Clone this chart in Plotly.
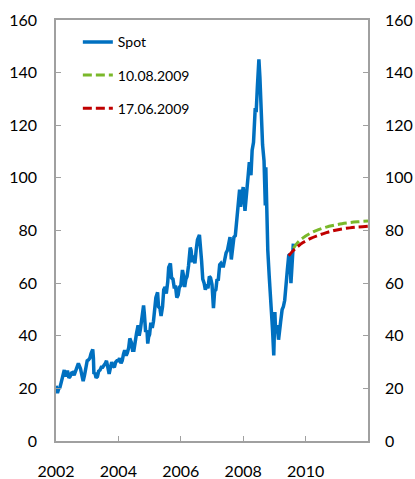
import plotly.graph_objects as go

# ---------------- data ----------------
spot_dates = [
    "2002-01-02", "2002-01-18", "2002-02-01", "2002-02-15", "2002-03-01", "2002-03-15", "2002-04-01", "2002-04-08",
    "2002-04-22", "2002-05-01", "2002-05-15", "2002-06-01", "2002-06-15", "2002-07-01", "2002-07-15", "2002-08-01",
    "2002-08-15", "2002-09-01", "2002-09-20", "2002-10-01", "2002-10-15", "2002-11-01", "2002-11-15", "2002-12-01",
    "2002-12-15",
    "2003-01-01", "2003-01-15", "2003-02-01", "2003-02-15", "2003-03-07", "2003-03-15", "2003-03-21", "2003-04-01",
    "2003-04-15", "2003-05-01", "2003-05-15", "2003-06-01", "2003-06-15", "2003-07-01", "2003-07-15", "2003-08-01",
    "2003-08-15", "2003-09-01", "2003-09-15", "2003-10-01", "2003-10-15", "2003-11-01", "2003-11-15", "2003-12-01",
    "2003-12-15",
    "2004-01-01", "2004-01-15", "2004-02-01", "2004-02-15", "2004-03-01", "2004-03-15", "2004-04-01", "2004-04-15",
    "2004-05-01", "2004-05-14", "2004-06-01", "2004-06-15", "2004-07-01", "2004-07-15", "2004-08-01", "2004-08-19",
    "2004-09-01", "2004-09-15", "2004-10-01", "2004-10-22", "2004-11-01", "2004-11-15", "2004-12-01", "2004-12-10",
    "2004-12-20",
    "2005-01-01", "2005-01-15", "2005-02-01", "2005-02-15", "2005-03-01", "2005-03-15", "2005-04-04", "2005-04-15",
    "2005-05-01", "2005-05-15", "2005-06-01", "2005-06-15", "2005-07-01", "2005-07-15", "2005-08-01", "2005-08-12",
    "2005-09-01", "2005-09-15", "2005-10-01", "2005-10-15", "2005-11-01", "2005-11-15", "2005-12-01", "2005-12-15",
    "2006-01-01", "2006-01-20", "2006-02-01", "2006-02-15", "2006-03-01", "2006-03-15", "2006-04-01", "2006-04-21",
    "2006-05-01", "2006-05-15", "2006-06-01", "2006-06-15", "2006-07-01", "2006-07-15", "2006-08-07", "2006-08-15",
    "2006-09-01", "2006-09-15", "2006-10-01", "2006-10-15", "2006-11-01", "2006-11-15", "2006-12-01", "2006-12-15",
    "2007-01-01", "2007-01-18", "2007-02-01", "2007-02-15", "2007-03-01", "2007-03-15", "2007-04-01", "2007-04-15",
    "2007-05-01", "2007-05-15", "2007-06-01", "2007-06-15", "2007-07-01", "2007-07-31", "2007-08-15", "2007-09-01",
    "2007-09-15", "2007-10-01", "2007-10-15", "2007-11-01", "2007-11-20", "2007-12-01", "2007-12-15",
    "2008-01-01", "2008-01-22", "2008-02-01", "2008-02-15", "2008-03-01", "2008-03-13", "2008-04-01", "2008-04-15",
    "2008-05-01", "2008-05-21", "2008-06-01", "2008-06-15", "2008-07-03", "2008-07-15", "2008-08-01", "2008-08-15",
    "2008-09-01", "2008-09-16", "2008-09-22", "2008-10-01", "2008-10-15", "2008-11-01", "2008-11-15", "2008-12-01",
    "2008-12-10", "2008-12-24",
    "2009-01-06", "2009-01-15", "2009-02-01", "2009-02-18", "2009-03-01", "2009-03-15", "2009-04-01", "2009-04-15",
    "2009-05-01", "2009-05-15", "2009-06-01", "2009-06-17", "2009-07-01", "2009-07-13", "2009-08-01", "2009-08-10",
]
spot_values = [
    21.0, 18.2, 19.8, 20.3, 22.0, 24.5, 26.5, 27.0,
    24.5, 25.5, 26.8, 24.0, 24.5, 25.8, 26.0, 25.0,
    26.8, 27.8, 29.5, 28.5, 27.5, 24.8, 22.8, 25.0,
    28.0,
    30.5, 30.8, 31.5, 33.2, 34.8, 31.5, 25.5, 26.0,
    24.0, 24.5, 26.5, 27.0, 28.0, 28.0, 28.5, 29.5,
    30.5, 28.0, 25.5, 28.0, 30.0, 28.5, 28.0, 30.0,
    30.5,
    30.5, 31.5, 29.5, 30.5, 33.0, 34.5, 32.5, 33.5,
    35.5, 39.0, 37.5, 34.5, 34.5, 38.0, 41.0, 44.0,
    40.0, 42.5, 47.0, 51.5, 48.0, 41.5, 42.0, 37.0,
    39.5,
    40.5, 45.0, 43.0, 45.5, 50.5, 54.5, 56.5, 51.0,
    50.5, 47.5, 51.0, 57.5, 58.5, 56.0, 60.5, 66.0,
    67.5, 62.0, 61.5, 58.5, 58.5, 54.5, 55.5, 58.5,
    59.0, 65.0, 63.0, 58.5, 61.5, 62.5, 66.5, 73.5,
    72.5, 68.0, 70.5, 67.5, 73.0, 76.5, 78.3, 73.5,
    68.5, 61.5, 60.0, 57.5, 59.5, 58.0, 62.5, 62.0,
    59.5, 50.5, 57.0, 57.5, 61.5, 61.0, 67.0, 67.5,
    66.5, 66.5, 69.5, 71.5, 72.5, 77.5, 69.0, 72.5,
    77.5, 78.0, 84.0, 89.5, 95.5, 89.0, 92.5,
    96.5, 87.5, 90.5, 96.0, 101.5, 106.0, 101.0, 110.5,
    113.5, 126.5, 125.0, 134.5, 145.0, 138.0, 122.5, 112.5,
    106.5, 89.5, 104.0, 88.0, 72.5, 62.5, 52.5, 46.5,
    42.0, 32.5,
    49.0, 41.0, 44.0, 38.5, 43.5, 45.5, 50.0, 51.0,
    53.5, 57.5, 65.0, 70.5, 71.0, 60.0, 71.5, 75.0,
]

fut_0810_dates = ["2009-08-10", "2009-10-01", "2009-12-01", "2010-03-01", "2010-06-01", "2010-09-01",
                  "2010-12-01", "2011-03-01", "2011-06-01", "2011-09-01", "2012-01-01"]
fut_0810_values = [73.2, 75.4, 77.2, 79.0, 80.3, 81.3, 82.0, 82.6, 83.0, 83.3, 83.6]

fut_1706_dates = ["2009-06-17", "2009-08-01", "2009-10-01", "2009-12-01", "2010-03-01", "2010-06-01",
                  "2010-09-01", "2010-12-01", "2011-03-01", "2011-06-01", "2011-09-01", "2012-01-01"]
fut_1706_values = [70.4, 72.1, 73.9, 75.4, 77.0, 78.2, 79.2, 80.0, 80.6, 81.0, 81.3, 81.6]

series_names = ["Spot", "10.08.2009", "17.06.2009"]
y_tick_vals = [0, 20, 40, 60, 80, 100, 120, 140, 160]
x_tick_vals = ["2002-01-01", "2004-01-01", "2006-01-01", "2008-01-01", "2010-01-01", "2012-01-01"]
x_tick_text = ["2002", "2004", "2006", "2008", "2010", ""]

# ---------------- figure ----------------
BLUE = "#0070C0"
GREEN = "#7AB82A"
RED = "#C00000"
AXIS = "#A0A0A0"

fig = go.Figure()
fig.add_trace(go.Scatter(x=spot_dates, y=spot_values, mode="lines", name=series_names[0],
                         line=dict(color=BLUE, width=3.5), legendgroup="a"))
fig.add_trace(go.Scatter(x=fut_0810_dates, y=fut_0810_values, mode="lines", name=series_names[1],
                         line=dict(color=GREEN, width=3, dash="9px,4px", shape="spline"),
                         legendgroup="b", yaxis="y2"))
fig.add_trace(go.Scatter(x=fut_1706_dates, y=fut_1706_values, mode="lines", name=series_names[2],
                         line=dict(color=RED, width=3, dash="9px,4px", shape="spline"),
                         legendgroup="c", yaxis="y2"))

axis_common = dict(showgrid=False, zeroline=False, showline=True, linecolor=AXIS, linewidth=1.5,
                   ticks="inside", ticklen=5, tickcolor=AXIS, tickwidth=1, automargin=False)

fig.update_layout(
    width=415, height=479,
    margin=dict(l=56, r=47, t=20, b=38),
    paper_bgcolor="white", plot_bgcolor="white",
    font=dict(family="Lato", size=16, color="black"),
    xaxis=dict(type="date", range=["2002-01-01", "2012-01-01"], tickvals=x_tick_vals, ticktext=x_tick_text,
               mirror=True, ticklabelstandoff=15, **axis_common),
    yaxis=dict(range=[0, 160], tickvals=y_tick_vals, ticklabelstandoff=14, **axis_common),
    yaxis2=dict(range=[0, 160], tickvals=y_tick_vals, overlaying="y", side="right",
                ticklabelstandoff=12, **axis_common),
    legend=dict(x=0.07, y=0.985, xanchor="left", yanchor="top", font=dict(size=14),
                bgcolor="rgba(0,0,0,0)", tracegroupgap=12, traceorder="grouped"),
    showlegend=True,
)

fig.write_html("out.html", config={"displayModeBar": False},
               post_script="document.body.style.margin='0';document.body.style.overflow='hidden';")
